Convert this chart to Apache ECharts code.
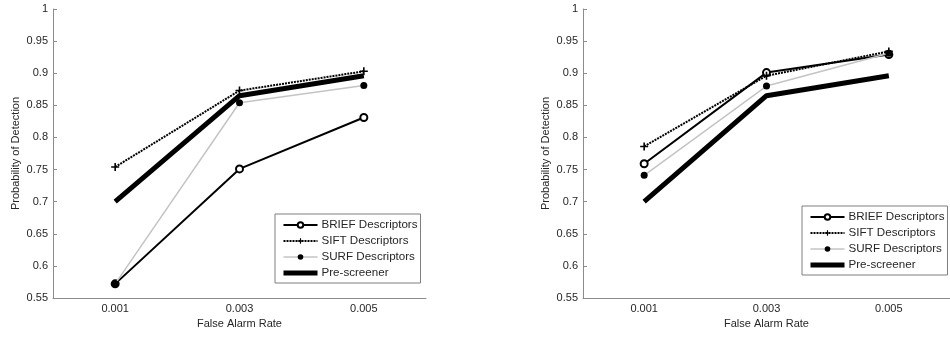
<!DOCTYPE html>
<html>
<head>
<meta charset="utf-8">
<style>
  html, body { margin: 0; padding: 0; background: #fff; }
  #chart { width: 950px; height: 337px; }
</style>
<script src="https://cdn.jsdelivr.net/npm/echarts@6/dist/echarts.min.js"></script>
</head>
<body>
<div id="chart"></div>
<script>
// False alarm rates on the x axis
const falseAlarmRates = ['0.001', '0.003', '0.005'];

// Left panel: probability of detection per descriptor
const leftBrief = [0.572, 0.751, 0.831];
const leftSift = [0.754, 0.873, 0.903];
const leftSurf = [0.572, 0.854, 0.881];
const leftPrescreener = [0.700, 0.865, 0.896];

// Right panel
const rightBrief = [0.759, 0.901, 0.929];
const rightSift = [0.786, 0.896, 0.934];
const rightSurf = [0.741, 0.880, 0.931];
const rightPrescreener = [0.700, 0.865, 0.896];

const seriesNames = ['BRIEF Descriptors', 'SIFT Descriptors', 'SURF Descriptors', 'Pre-screener'];
const lineWidths = [2, 2, 1.5, 5];

const FONT = 'Liberation Sans, Arial, sans-serif';
const AXIS_GRAY = '#8c8c8c';
const TEXT = '#262626';
const PLUS = 'path://M4 0h2v4h4v2h-4v4h-2v-4h-4v-2h4z';

function makeXAxis(gridIndex) {
  return {
    type: 'category', gridIndex, data: falseAlarmRates, boundaryGap: true,
    name: 'False Alarm Rate', nameLocation: 'middle', nameGap: 19,
    nameTextStyle: { fontFamily: FONT, fontSize: 11, color: TEXT },
    axisLine: { lineStyle: { color: AXIS_GRAY, width: 1 } },
    axisTick: { inside: true, alignWithLabel: true, length: 4, lineStyle: { color: AXIS_GRAY } },
    axisLabel: { fontFamily: FONT, fontSize: 11, color: TEXT, margin: 5 },
    splitLine: { show: false }
  };
}

function makeYAxis(gridIndex) {
  return {
    type: 'value', gridIndex, min: 0.55, max: 1, interval: 0.05,
    name: 'Probability of Detection', nameLocation: 'middle', nameGap: 32,
    nameTextStyle: { fontFamily: FONT, fontSize: 11, color: TEXT },
    axisLine: { show: true, lineStyle: { color: AXIS_GRAY, width: 1 } },
    axisTick: { show: true, inside: true, length: 4, lineStyle: { color: AXIS_GRAY } },
    axisLabel: { fontFamily: FONT, fontSize: 11, color: TEXT, margin: 5,
      formatter: v => String(Math.round(v * 100) / 100) },
    splitLine: { show: false }
  };
}

function makeSeries(idx, brief, sift, surf, pre) {
  const base = { type: 'line', xAxisIndex: idx, yAxisIndex: idx, animation: false };
  return [
    Object.assign({}, base, {
      name: seriesNames[0], data: brief, symbol: 'emptyCircle', symbolSize: 7,
      lineStyle: { color: '#000', width: lineWidths[0] },
      itemStyle: { color: '#000', borderColor: '#000', borderWidth: 2 }, z: 3
    }),
    Object.assign({}, base, {
      name: seriesNames[1], data: sift, symbol: PLUS, symbolSize: 8,
      lineStyle: { color: '#000', width: lineWidths[1], type: [2, 1] },
      itemStyle: { color: '#000' }, z: 4
    }),
    Object.assign({}, base, {
      name: seriesNames[2], data: surf, symbol: 'circle', symbolSize: 7,
      lineStyle: { color: '#c4c4c4', width: lineWidths[2] },
      itemStyle: { color: '#000' }, z: 5
    }),
    Object.assign({}, base, {
      name: seriesNames[3], data: pre, symbol: 'none',
      lineStyle: { color: '#000', width: lineWidths[3] },
      itemStyle: { color: 'rgba(0,0,0,0)', borderWidth: 0 }, z: 6
    })
  ];
}

function makeLegend(left, top) {
  return {
    data: seriesNames.map((name, i) => ({ name, lineStyle: { width: lineWidths[i] } })),
    orient: 'vertical', left, top,
    itemWidth: 34, itemHeight: 7, itemGap: 4,
    padding: [5, 3, 4, 6],
    borderColor: '#7f7f7f', borderWidth: 1, borderRadius: 0,
    backgroundColor: '#fff',
    textStyle: { fontFamily: FONT, fontSize: 11.6, color: TEXT, padding: [0, 0, 0, -1] },
    selectedMode: false
  };
}

const chart = echarts.init(document.getElementById('chart'), null, { renderer: 'canvas' });
chart.setOption({
  animation: false,
  backgroundColor: '#fff',
  grid: [
    { left: 53, top: 9, width: 373, height: 289 },
    { left: 583, top: 9, width: 373, height: 289 }
  ],
  xAxis: [makeXAxis(0), makeXAxis(1)],
  yAxis: [makeYAxis(0), makeYAxis(1)],
  legend: [makeLegend(275, 214), makeLegend(802, 206)],
  series: [
    ...makeSeries(0, leftBrief, leftSift, leftSurf, leftPrescreener),
    ...makeSeries(1, rightBrief, rightSift, rightSurf, rightPrescreener)
  ]
});
</script>
</body>
</html>
